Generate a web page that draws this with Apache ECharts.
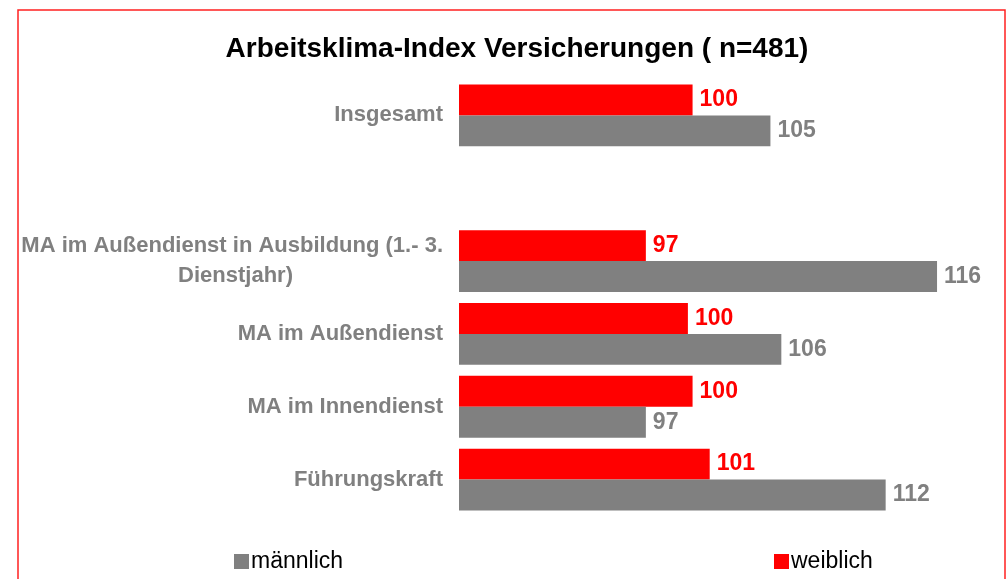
<!DOCTYPE html>
<html>
<head>
<meta charset="utf-8">
<script src="https://cdn.jsdelivr.net/npm/echarts@6/dist/echarts.min.js"></script>
<style>
  html, body { margin: 0; padding: 0; background: #fff; }
  #chart { width: 1007px; height: 579px; }
</style>
</head>
<body>
<div id="chart"></div>
<script>
// Kategorien von oben nach unten, '' = Leerzeile
const categories = ['Insgesamt', '', 'MA im Außendienst in Ausbildung (1.- 3. Dienstjahr)', 'MA im Außendienst', 'MA im Innendienst', 'Führungskraft']
// aus den Balkenlängen geschätzt, Beschriftung gerundet
const weiblich = [100.0, '-', 97.0, 99.7, 100.0, 101.1]
const maennlich = [105.0, '-', 115.7, 105.7, 97.0, 112.4]

const chart = echarts.init(document.getElementById('chart'))
const fontFam = 'Liberation Sans, Arial, sans-serif'

const option = {
  backgroundColor: '#fff',
  animation: false,
  title: {
    text: 'Arbeitsklima-Index Versicherungen ( n=481)',
    left: 512,
    textAlign: 'center',
    top: 30,
    textStyle: { fontFamily: fontFam, fontSize: 28, fontWeight: 'bold', color: '#000' }
  },
  legend: [
    {
      data: ['männlich'],
      left: 229,
      top: 545,
      itemWidth: 15,
      itemHeight: 15,
      icon: 'rect',
      textStyle: { fontFamily: fontFam, fontSize: 23, color: '#000', padding: [0, 0, 0, -3] }
    },
    {
      data: ['weiblich'],
      left: 769,
      top: 545,
      itemWidth: 15,
      itemHeight: 15,
      icon: 'rect',
      textStyle: { fontFamily: fontFam, fontSize: 23, color: '#000', padding: [0, 0, 0, -3] }
    }
  ],
  grid: {
    left: 459,
    right: 3,
    top: 79,
    height: 437
  },
  xAxis: {
    type: 'value',
    min: 85,
    max: 120,
    show: false
  },
  yAxis: {
    type: 'category',
    inverse: true,
    data: categories,
    axisLine: { show: false },
    axisTick: { show: false },
    axisLabel: {
      margin: 16,
      fontFamily: fontFam,
      fontSize: 22,
      fontWeight: 'bold',
      color: '#808080',
      lineHeight: 30,
      formatter: v => {
        if (v.indexOf('Ausbildung') >= 0) {
          return '{a|MA im Außendienst in Ausbildung (1.- 3.}\n{b|Dienstjahr)}'
        }
        return v
      },
      rich: {
        a: { fontFamily: fontFam, fontSize: 22, fontWeight: 'bold', color: '#808080', lineHeight: 30 },
        b: { fontFamily: fontFam, fontSize: 22, fontWeight: 'bold', color: '#808080', lineHeight: 30, padding: [0, 150, 0, 0] }
      }
    }
  },
  series: [
    {
      name: 'weiblich',
      type: 'bar',
      data: weiblich,
      barGap: '0%',
      barCategoryGap: '15%',
      itemStyle: { color: '#ff0000' },
      label: {
        show: true,
        position: 'right',
        distance: 7,
        formatter: p => Math.round(p.value),
        fontFamily: fontFam,
        fontSize: 23,
        fontWeight: 'bold',
        color: '#ff0000'
      }
    },
    {
      name: 'männlich',
      type: 'bar',
      data: maennlich,
      itemStyle: { color: '#808080' },
      label: {
        show: true,
        position: 'right',
        distance: 7,
        formatter: p => Math.round(p.value),
        fontFamily: fontFam,
        fontSize: 23,
        fontWeight: 'bold',
        color: '#808080'
      }
    }
  ],
  graphic: [
    {
      type: 'rect',
      shape: { x: 18, y: 10, width: 987, height: 600 },
      style: { fill: 'none', stroke: '#ff2020', lineWidth: 1.5 },
      silent: true
    }
  ]
}

chart.setOption(option)
</script>
</body>
</html>
